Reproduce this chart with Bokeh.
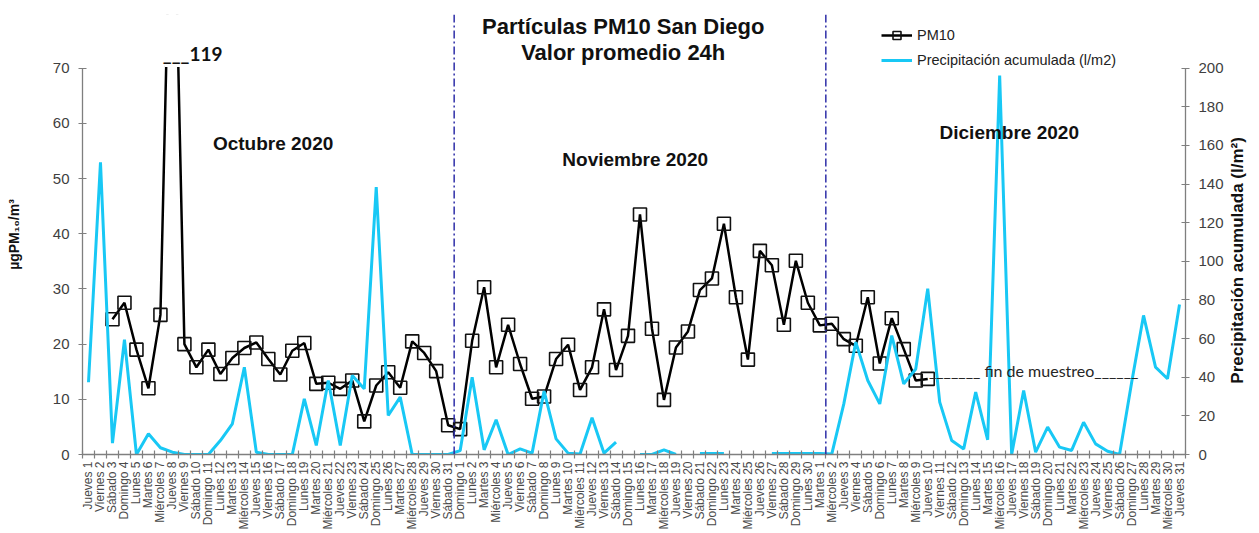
import math
from bokeh.plotting import figure
from bokeh.models import (Range1d, LinearAxis, FixedTicker, Label, Span,
                          Legend, LegendItem)
from bokeh.embed import file_html
from bokeh.resources import INLINE

nan = float("nan")

# ---------------- data ----------------
dias_oct = ["Jueves 1", "Viernes 2", "Sábado 3", "Domingo 4", "Lunes 5", "Martes 6", "Miércoles 7",
            "Jueves 8", "Viernes 9", "Sábado 10", "Domingo 11", "Lunes 12", "Martes 13", "Miércoles 14",
            "Jueves 15", "Viernes 16", "Sábado 17", "Domingo 18", "Lunes 19", "Martes 20", "Miércoles 21",
            "Jueves 22", "Viernes 23", "Sábado 24", "Domingo 25", "Lunes 26", "Martes 27", "Miércoles 28",
            "Jueves 29", "Viernes 30", "Sábado 31"]
dias_nov = ["Domingo 1", "Lunes 2", "Martes 3", "Miércoles 4", "Jueves 5", "Viernes 6", "Sábado 7",
            "Domingo 8", "Lunes 9", "Martes 10", "Miércoles 11", "Jueves 12", "Viernes 13", "Sábado 14",
            "Domingo 15", "Lunes 16", "Martes 17", "Miércoles 18", "Jueves 19", "Viernes 20", "Sábado 21",
            "Domingo 22", "Lunes 23", "Martes 24", "Miércoles 25", "Jueves 26", "Viernes 27", "Sábado 28",
            "Domingo 29", "Lunes 30"]
dias_dic = ["Martes 1", "Miércoles 2", "Jueves 3", "Viernes 4", "Sábado 5", "Domingo 6", "Lunes 7",
            "Martes 8", "Miércoles 9", "Jueves 10", "Viernes 11", "Sábado 12", "Domingo 13", "Lunes 14",
            "Martes 15", "Miércoles 16", "Jueves 17", "Viernes 18", "Sábado 19", "Domingo 20", "Lunes 21",
            "Martes 22", "Miércoles 23", "Jueves 24", "Viernes 25", "Sábado 26", "Domingo 27", "Lunes 28",
            "Martes 29", "Miércoles 30", "Jueves 31"]

pm10_oct = [nan, nan, 24.5, 27.5, 19.0, 12.0, 25.3, 119, 20.0, 15.8, 19.0, 14.6, 17.5, 19.3, 20.3,
            17.3, 14.5, 18.8, 20.2, 12.8, 13.0, 11.9, 13.4, 6.0, 12.5, 14.9, 12.1, 20.5, 18.4, 15.1, 5.3]
pm10_nov = [4.6, 20.6, 30.3, 15.8, 23.5, 16.4, 10.1, 10.5, 17.3, 19.9, 11.7, 15.8, 26.3, 15.3, 21.5,
            43.5, 22.8, 9.9, 19.4, 22.3, 29.8, 31.9, 41.8, 28.5, 17.2, 36.9, 34.3, 23.5, 35.1, 27.5]
pm10_dic = [23.4, 23.7, 20.9, 19.7, 28.5, 16.5, 24.7, 19.1, 13.4, 13.7] + [nan] * 21

prec_oct = [37.4, 151.3, 5.9, 59.5, 0, 10.7, 3.5, 1.2, 0, 0, 0, 7.2, 15.9, 45.2, 1.2, 0, 0, 0,
            28.8, 4.7, 38.3, 4.7, 40.9, 34.0, 138.4, 20.2, 29.7, 0, 0, 0, 0]
prec_nov = [2.0, 40.0, 2.4, 18.0, 0, 2.9, 0.7, 32.8, 8.1, 0.7, 0.3, 19.0, 0.7, 6.4, nan, 0, 0, 2.4,
            0, nan, 0.5, 0.5, 0.5, nan, nan, nan, 0.5, 0.5, 0.5, 0.5]
prec_dic = [0.5, 0.3, 26.2, 58.2, 38.3, 26.2, 61.6, 36.6, 44.3, 85.8, 27.1, 7.2, 2.9, 32.3, 7.6,
            196.2, 0, 33.1, 1.2, 14.2, 3.8, 2.1, 16.7, 5.5, 1.7, 0, 37.0, 72.0, 45.2, 39.2, 77.7]

etiquetas = dias_oct + dias_nov + dias_dic
pm10 = pm10_oct + pm10_nov + pm10_dic
prec = prec_oct + prec_nov + prec_dic
x = list(range(len(etiquetas)))

PM_MAX = 70      # left axis limit
PP_MAX = 200     # right axis limit
FONT = "Liberation Sans"

# frame extends above the axis limits (room for title, legend, separators)
y_top = PM_MAX * 440 / 386.3
p = figure(width=1259, height=533, x_range=Range1d(-0.5, len(x) - 0.5),
           y_range=Range1d(0, y_top),
           output_backend="svg", toolbar_location=None,
           min_border_left=82, min_border_right=72, min_border_top=14, min_border_bottom=79)
p.outline_line_color = None
p.xgrid.visible = False
p.ygrid.visible = False
p.background_fill_color = "white"
p.extra_y_ranges = {"pp": Range1d(0, PP_MAX * 440 / 386.3)}

# x axis
xa = p.xaxis[0]
xa.ticker = FixedTicker(ticks=x, minor_ticks=[i - 0.5 for i in range(len(x) + 1)])
xa.major_label_overrides = {i: lab for i, lab in enumerate(etiquetas)}
xa.major_label_orientation = math.pi / 2
xa.major_tick_in = 0
xa.major_tick_out = 0
xa.minor_tick_in = 4
xa.minor_tick_out = 4
xa.major_label_standoff = 3
xa.major_label_text_font = FONT
xa.major_label_text_font_size = "12px"
xa.major_label_text_color = "#4a4a4a"
xa.axis_line_color = "#7f7f7f"
xa.axis_line_width = 1.3
xa.minor_tick_line_color = "#7f7f7f"
xa.minor_tick_line_width = 1.2

# left axis
ya = p.yaxis[0]
ya.bounds = (0, PM_MAX)
ya.ticker = FixedTicker(ticks=list(range(0, PM_MAX + 1, 10)))
ya.axis_label = "µgPM₁₀/m³"
ya.axis_label_text_font_size = "14px"
ya.axis_label_standoff = 28

# right axis (label read from bottom to top, as in the original)
yr = LinearAxis(y_range_name="pp", ticker=FixedTicker(ticks=list(range(0, PP_MAX + 1, 20))))
yr.bounds = (0, PP_MAX)
titulo_der = "Precipitación acumulada (l/m²)"
if "axis_label_align" in yr.properties() and "axis_label_orientation" in yr.properties():
    yr.axis_label_orientation = math.pi / 2
    yr.axis_label_align = "start"
    yr.axis_label = "\u00a0" * 15 + titulo_der
else:
    yr.axis_label = titulo_der
yr.axis_label_text_font_size = "17px"
yr.axis_label_standoff = 11
p.add_layout(yr, "right")

for a in [ya, yr]:
    a.axis_label_text_font = FONT
    a.axis_label_text_font_style = "bold"
    a.axis_label_text_color = "#111111"
    a.axis_line_color = "#7f7f7f"
    a.axis_line_width = 1.3
    a.major_tick_line_color = "#7f7f7f"
    a.major_tick_line_width = 1.2
    a.major_tick_in = 4
    a.major_tick_out = 4
    a.minor_tick_line_color = None
    a.major_label_text_font = FONT
    a.major_label_text_font_size = "15px"
    a.major_label_text_color = "#404040"
ya.major_label_standoff = 9
yr.major_label_standoff = 9

# month separators
for b in [len(dias_oct) - 0.5, len(dias_oct) + len(dias_nov) + 0.5]:
    p.add_layout(Span(location=b, dimension="height", line_color="#2E2EA8",
                      line_width=1.5, line_dash="8 3 2 3"))

# series
pm_line = p.line(x, pm10, line_color="black", line_width=2.5)
pm_marks = p.scatter(x, pm10, marker="square", size=13, fill_color=None,
                     line_color="#111111", line_width=1.6)

# values above the left-axis limit are cut at the axis top (as in the original):
# a white cover over the part of the frame above the axis limit
picos = [i for i, v in enumerate(pm10) if v == v and v > PM_MAX]
for _ in range(3):
    if picos:
        p.quad(left=[i - 0.62 for i in picos], right=[i + 0.62 for i in picos],
               bottom=PM_MAX + 0.2, top=y_top * 2, fill_color="white", line_color=None)

pp_line = p.line(x, prec, y_range_name="pp", line_color="#18C8F5", line_width=3)

for i in picos:
    p.add_layout(Label(x=i - 0.8, y=PM_MAX, y_offset=15, text="___" + format(pm10[i], "g"),
                       text_align="left", text_baseline="alphabetic", text_font="Lato",
                       text_font_style="bold", text_font_size="19px", text_color="#111111"))

legend = Legend(items=[LegendItem(label="PM10", renderers=[pm_line, pm_marks]),
                       LegendItem(label="Precipitación acumulada (l/m2)", renderers=[pp_line])],
                location=(799, 384), border_line_color=None, background_fill_alpha=0,
                label_text_font=FONT, label_text_font_size="14.5px", label_text_color="#222222",
                glyph_width=31, glyph_height=20, label_height=20, spacing=5, padding=0, margin=0,
                label_standoff=5)
p.add_layout(legend)

# titles and annotations
p.add_layout(Label(x=44.6, y=77.5, text="Partículas PM10 San Diego", text_align="center",
                   text_baseline="middle", text_font=FONT, text_font_style="bold",
                   text_font_size="22px", text_color="#111111"))
p.add_layout(Label(x=44.6, y=72.9, text="Valor promedio 24h", text_align="center",
                   text_baseline="middle", text_font=FONT, text_font_style="bold",
                   text_font_size="22px", text_color="#111111"))
for xx, yy, t in [(15.4, 56.4, "Octubre 2020"), (45.6, 53.5, "Noviembre 2020"),
                  (76.8, 58.4, "Diciembre 2020")]:
    p.add_layout(Label(x=xx, y=yy, text=t, text_align="center", text_baseline="middle",
                       text_font=FONT, text_font_style="bold", text_font_size="19px",
                       text_color="#111111"))
p.add_layout(Label(x=70.1, y=15.2, text="_______ fin de muestreo______", text_align="left",
                   text_baseline="alphabetic", text_font="Lato",
                   text_font_size="16px", text_color="#262626"))

open("out.html", "w").write(file_html(p, INLINE))
